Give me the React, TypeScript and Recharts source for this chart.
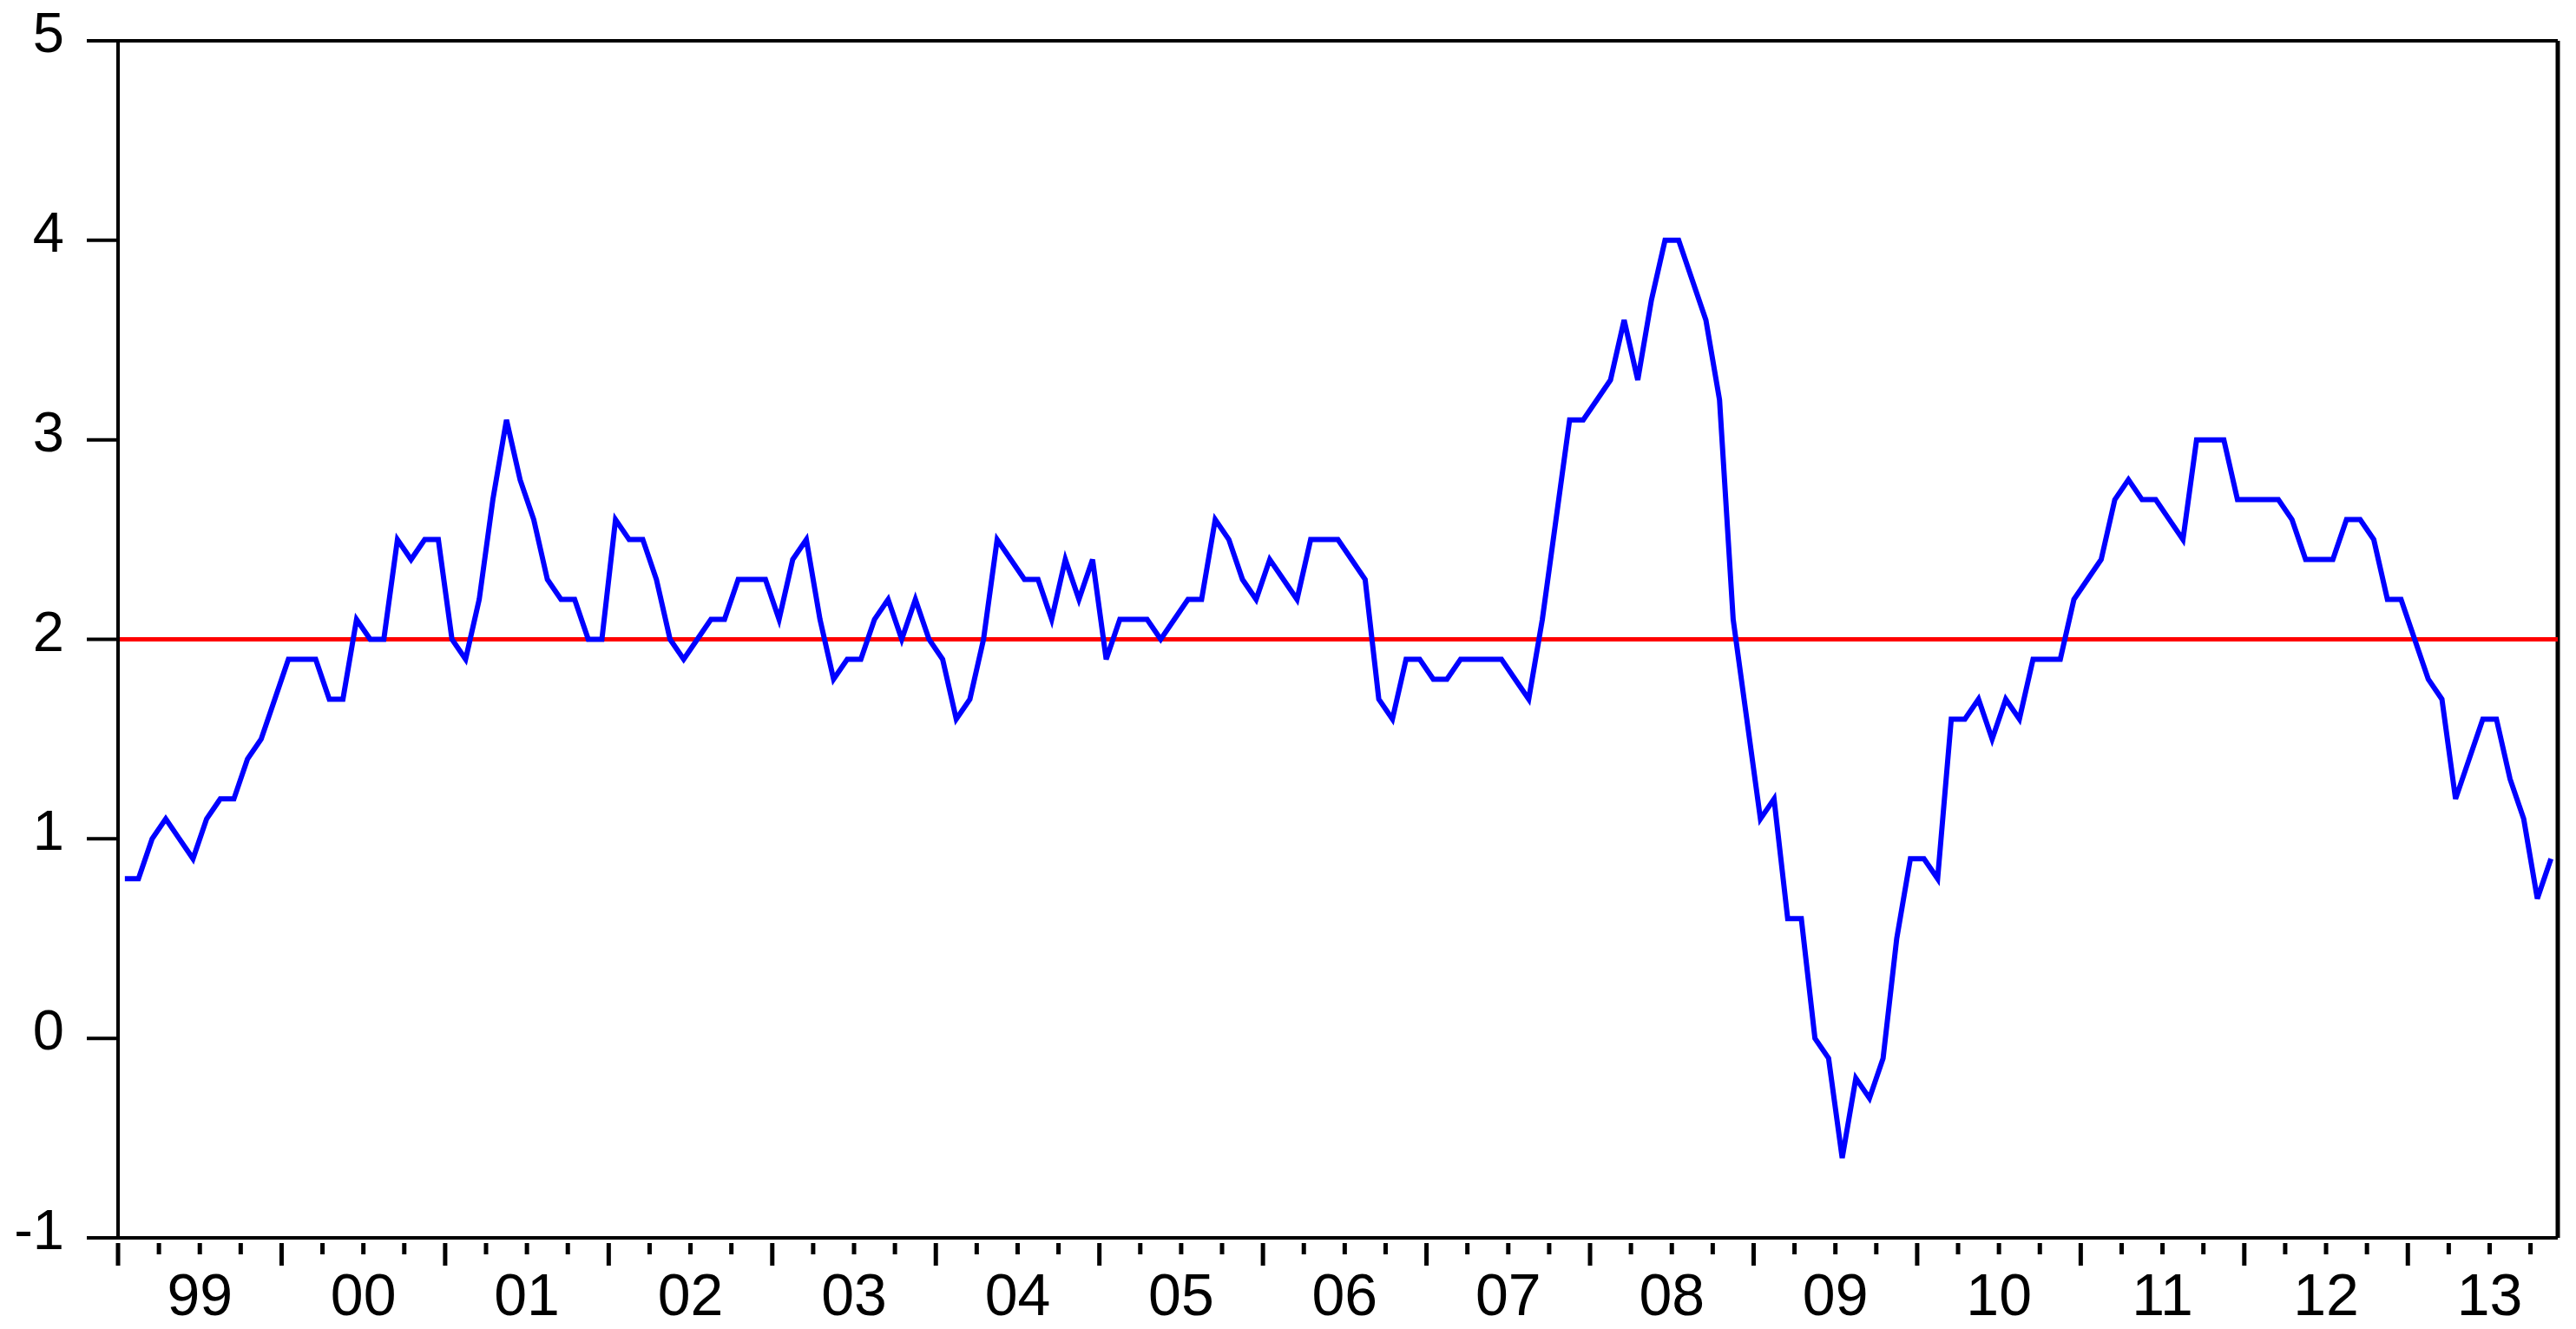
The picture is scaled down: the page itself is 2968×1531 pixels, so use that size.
import { Line, LineChart, ReferenceLine, XAxis, YAxis } from 'recharts'

// euro area HICP, annual rate of change (%), monthly Jan 1999 - Nov 2013
const y1999 = [0.8, 0.8, 1.0, 1.1, 1.0, 0.9, 1.1, 1.2, 1.2, 1.4, 1.5, 1.7]
const y2000 = [1.9, 1.9, 1.9, 1.7, 1.7, 2.1, 2.0, 2.0, 2.5, 2.4, 2.5, 2.5]
const y2001 = [2.0, 1.9, 2.2, 2.7, 3.1, 2.8, 2.6, 2.3, 2.2, 2.2, 2.0, 2.0]
const y2002 = [2.6, 2.5, 2.5, 2.3, 2.0, 1.9, 2.0, 2.1, 2.1, 2.3, 2.3, 2.3]
const y2003 = [2.1, 2.4, 2.5, 2.1, 1.8, 1.9, 1.9, 2.1, 2.2, 2.0, 2.2, 2.0]
const y2004 = [1.9, 1.6, 1.7, 2.0, 2.5, 2.4, 2.3, 2.3, 2.1, 2.4, 2.2, 2.4]
const y2005 = [1.9, 2.1, 2.1, 2.1, 2.0, 2.1, 2.2, 2.2, 2.6, 2.5, 2.3, 2.2]
const y2006 = [2.4, 2.3, 2.2, 2.5, 2.5, 2.5, 2.4, 2.3, 1.7, 1.6, 1.9, 1.9]
const y2007 = [1.8, 1.8, 1.9, 1.9, 1.9, 1.9, 1.8, 1.7, 2.1, 2.6, 3.1, 3.1]
const y2008 = [3.2, 3.3, 3.6, 3.3, 3.7, 4.0, 4.0, 3.8, 3.6, 3.2, 2.1, 1.6]
const y2009 = [1.1, 1.2, 0.6, 0.6, 0.0, -0.1, -0.6, -0.2, -0.3, -0.1, 0.5, 0.9]
const y2010 = [0.9, 0.8, 1.6, 1.6, 1.7, 1.5, 1.7, 1.6, 1.9, 1.9, 1.9, 2.2]
const y2011 = [2.3, 2.4, 2.7, 2.8, 2.7, 2.7, 2.6, 2.5, 3.0, 3.0, 3.0, 2.7]
const y2012 = [2.7, 2.7, 2.7, 2.6, 2.4, 2.4, 2.4, 2.6, 2.6, 2.5, 2.2, 2.2]
const y2013 = [2.0, 1.8, 1.7, 1.2, 1.4, 1.6, 1.6, 1.3, 1.1, 0.7, 0.9]

const START_YEAR = 1999
const TARGET = 2
const Y_TICKS = [-1, 0, 1, 2, 3, 4, 5]

const values = [
  ...y1999, ...y2000, ...y2001, ...y2002, ...y2003,
  ...y2004, ...y2005, ...y2006, ...y2007, ...y2008,
  ...y2009, ...y2010, ...y2011, ...y2012, ...y2013,
]
const nMonths = values.length
// each month is a slot, the point sits in the middle of it
const data = values.map((v, i) => ({ m: i + 0.5, v }))
// quarterly ticks on month boundaries
const xTicks: number[] = []
for (let t = 0; t < nMonths; t += 3) xTicks.push(t)

const FONT = '"Liberation Sans", Arial, sans-serif'

function MonthTick(props: any) {
  const { x, y, payload } = props
  const v = payload.value as number
  const major = v % 12 === 0
  const yr = START_YEAR + Math.floor(v / 12)
  return (
    <g>
      <line x1={x} x2={x} y1={y + 6} y2={y + (major ? 32 : 19)} stroke="#000" strokeWidth={5} />
      {v % 12 === 6 ? (
        <text x={x} y={y + 89} textAnchor="middle" fontSize={68} fontFamily={FONT} fill="#000">
          {String(yr % 100).padStart(2, '0')}
        </text>
      ) : null}
    </g>
  )
}

function ValueTick(props: any) {
  const { x, y, payload } = props
  return (
    <g>
      <line x1={x - 36} x2={x} y1={y} y2={y} stroke="#000" strokeWidth={4} />
      <text x={x - 62} y={y + 13} textAnchor="end" fontSize={65} fontFamily={FONT} fill="#000">
        {payload.value}
      </text>
    </g>
  )
}

export default function App() {
  return (
    <div style={{ position: 'absolute', left: 0, top: 0, width: 2968, height: 1531, background: '#fff' }}>
      <LineChart width={2968} height={1531} data={data} margin={{ top: 47, right: 21, left: 0, bottom: 0 }}>
        <XAxis
          dataKey="m"
          type="number"
          domain={[0, nMonths]}
          ticks={xTicks}
          interval={0}
          height={105}
          tickSize={0}
          tickMargin={0}
          axisLine={{ stroke: '#000', strokeWidth: 4 }}
          tickLine={false}
          tick={<MonthTick />}
        />
        <YAxis
          type="number"
          domain={[-1, 5]}
          ticks={Y_TICKS}
          interval={0}
          width={136}
          tickSize={0}
          tickMargin={0}
          axisLine={{ stroke: '#000', strokeWidth: 4 }}
          tickLine={false}
          tick={<ValueTick />}
        />
        <ReferenceLine y={5} stroke="#000" strokeWidth={4} />
        <ReferenceLine x={nMonths} stroke="#000" strokeWidth={5} />
        <ReferenceLine y={TARGET} stroke="#ff0000" strokeWidth={5} />
        <Line
          type="linear"
          dataKey="v"
          stroke="#0000ff"
          strokeWidth={6}
          dot={false}
          isAnimationActive={false}
        />
      </LineChart>
    </div>
  )
}
